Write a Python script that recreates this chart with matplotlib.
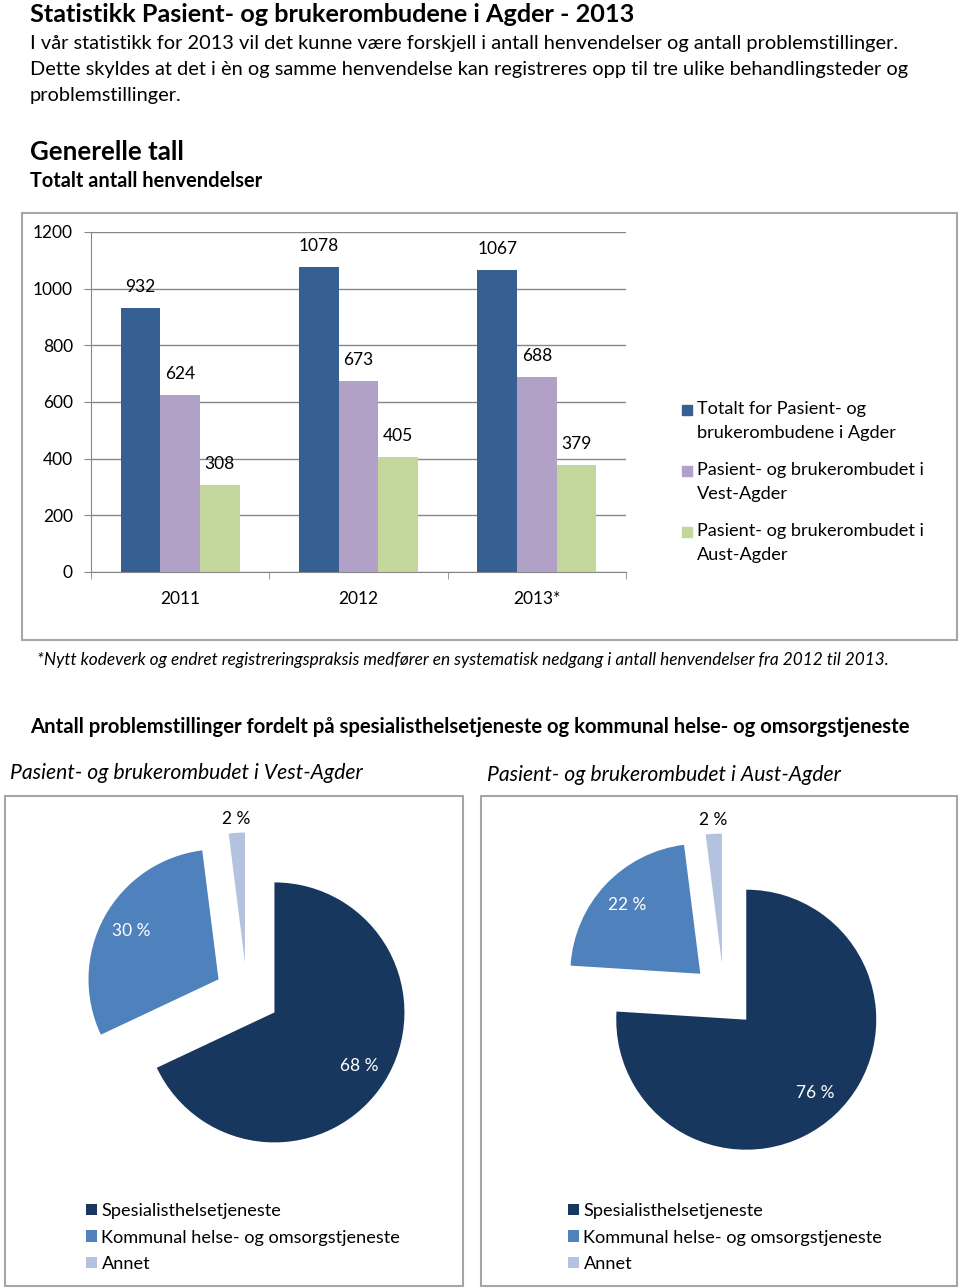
"""Statistikk Pasient- og brukerombudene i Agder - 2013"""

import matplotlib
matplotlib.use("Agg")
import matplotlib.pyplot as plt
from matplotlib.patches import Rectangle
import numpy as np

plt.rcParams['font.family'] = ['Lato', 'DejaVu Sans']

W, H = 960, 1288

# Data: henvendelser
years = ["2011", "2012", "2013*"]
totalt = [932, 1078, 1067]
vest = [624, 673, 688]
aust = [308, 405, 379]
bar_labels = [["Totalt for Pasient- og", "brukerombudene i Agder"],
              ["Pasient- og brukerombudet i", "Vest-Agder"],
              ["Pasient- og brukerombudet i", "Aust-Agder"]]
bar_colors = ["#376092", "#b2a1c7", "#c3d69b"]
y_ticks = [0, 200, 400, 600, 800, 1000, 1200]

# Data: problemstillinger (%)
pie_labels = ["Spesialisthelsetjeneste", "Kommunal helse- og omsorgstjeneste", "Annet"]
vest_pct = [68, 30, 2]
aust_pct = [76, 22, 2]
pie_colors = ["#17375e", "#4f81bd", "#b3c3df"]


def fx(x):
    return x / W


def fy(y):
    return 1 - y / H


def box(x0, y0, x1, y1):
    # gray frame round a chart, given in pixels
    fig.add_artist(Rectangle((fx(x0), fy(y1)), fx(x1) - fx(x0), fy(y0) - fy(y1),
                             transform=fig.transFigure, fill=False,
                             edgecolor="#a6a6a6", linewidth=1.5))


fig = plt.figure(figsize=(9.6, 12.88), dpi=100)

# Text
fig.text(fx(30), fy(14), "Statistikk Pasient- og brukerombudene i Agder - 2013",
         fontsize=18.2, fontweight="bold", va="center")
body = ["I vår statistikk for 2013 vil det kunne være forskjell i antall henvendelser og antall problemstillinger.",
        "Dette skyldes at det i èn og samme henvendelse kan registreres opp til tre ulike behandlingsteder og",
        "problemstillinger."]
for i, line in enumerate(body):
    fig.text(fx(30), fy(43 + i * 26.5), line, fontsize=14.4, va="center")
fig.text(fx(30), fy(152), "Generelle tall", fontsize=18.6, fontweight="bold", va="center")
fig.text(fx(30), fy(181), "Totalt antall henvendelser", fontsize=14.4, fontweight="bold", va="center")

# Bar chart
box(22, 213, 957, 640)
ax = fig.add_axes([fx(91), fy(572), fx(626) - fx(91), fy(232) - fy(572)])
x = np.arange(len(years))
w = 1 / 4.5
series = [totalt, vest, aust]
for k, vals in enumerate(series):
    b = ax.bar(x + (k - 1) * w, vals, w, color=bar_colors[k], zorder=3)
    for rect, v in zip(b, vals):
        ax.annotate(str(v), (rect.get_x() + rect.get_width() / 2, v),
                    xytext=(0, 15), textcoords="offset points",
                    ha="center", va="center", fontsize=12.5)

ax.set_xlim(-0.5, 2.5)
ax.set_ylim(0, 1200)
ax.set_yticks(y_ticks)
ax.yaxis.grid(True, color="#868686", linewidth=1, zorder=0)
ax.set_xticks(x)
ax.set_xticklabels(years)
ax.set_xticks([-0.5, 0.5, 1.5, 2.5], minor=True)
ax.tick_params(axis="x", which="major", length=0, pad=13.5, labelsize=12.5)
ax.tick_params(axis="x", which="minor", length=5, color="#868686")
ax.tick_params(axis="y", length=5, color="#868686", pad=8, labelsize=12.5)
for s in ["top", "right"]:
    ax.spines[s].set_visible(False)
for s in ["left", "bottom"]:
    ax.spines[s].set_color("#868686")

# legend for the bars, two lines per entry
leg_y = [409, 470, 531]
for k in range(3):
    fig.add_artist(Rectangle((fx(682), fy(leg_y[k] + 6)), 10 / W, 10 / H,
                             transform=fig.transFigure, color=bar_colors[k]))
    for j, line in enumerate(bar_labels[k]):
        fig.text(fx(697), fy(leg_y[k] + j * 24), line, fontsize=13.1, va="center")

fig.text(fx(37), fy(660), "*Nytt kodeverk og endret registreringspraksis medfører en systematisk "
         "nedgang i antall henvendelser fra 2012 til 2013.", fontsize=12.4, style="italic", va="center")
fig.text(fx(30), fy(727), "Antall problemstillinger fordelt på spesialisthelsetjeneste og kommunal "
         "helse- og omsorgstjeneste", fontsize=14.6, fontweight="bold", va="center")
fig.text(fx(10), fy(773), "Pasient- og brukerombudet i Vest-Agder", fontsize=15.2, style="italic", va="center")
fig.text(fx(487), fy(775), "Pasient- og brukerombudet i Aust-Agder", fontsize=15.2, style="italic", va="center")

# Pie charts
R = 130.0


def draw_pie(pct, x0, x1, cx, cy, leg_x, frame):
    box(*frame)
    y0, y1 = 800, 1180
    pax = fig.add_axes([fx(x0), fy(y1), fx(x1) - fx(x0), fy(y0) - fy(y1)])
    wedges, _, autos = pax.pie(pct, colors=pie_colors, startangle=90, counterclock=False,
                               explode=[0.25] * 3, autopct=lambda p: f"{p:.0f} %",
                               pctdistance=0.77, textprops=dict(color="white", fontsize=12.5))
    # small slice: label outside
    wd = wedges[2]
    th = np.deg2rad((wd.theta1 + wd.theta2) / 2)
    autos[2].set_position((1.36 * np.cos(th), 1.36 * np.sin(th)))
    autos[2].set_color("black")
    pax.set_aspect("auto")
    pax.set_xlim((x0 - cx) / R, (x1 - cx) / R)
    pax.set_ylim((cy - y1) / R, (cy - y0) / R)
    pax.legend(wedges, pie_labels, loc="upper left", bbox_to_anchor=(fx(leg_x), fy(1203)),
               bbox_transform=fig.transFigure, frameon=False, fontsize=13.1,
               borderpad=0, borderaxespad=0,
               handlelength=0.6, handleheight=0.6, handletextpad=0.25, labelspacing=0.58)


draw_pie(vest_pct, 10, 460, 247, 995, 86, (5, 796, 463, 1286))
draw_pie(aust_pct, 486, 952, 724, 996, 568, (481, 796, 957, 1286))

fig.savefig("out.png", dpi=100)
